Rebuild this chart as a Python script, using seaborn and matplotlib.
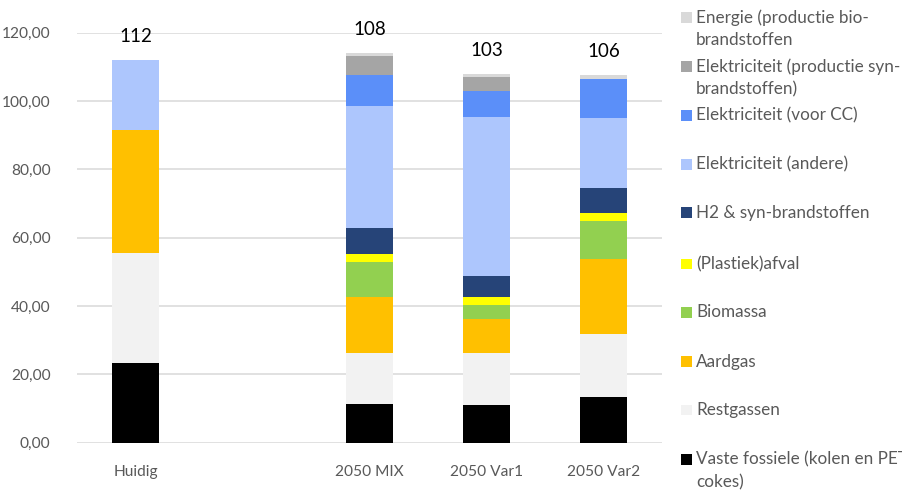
import numpy as np
import pandas as pd
import matplotlib
matplotlib.use("Agg")
import matplotlib.pyplot as plt
import seaborn as sns
from matplotlib.patches import Rectangle

# ---------------- data ----------------
categories = ["Huidig", "2050 MIX", "2050 Var1", "2050 Var2"]
slots = ["Huidig", " ", "2050 MIX", "2050 Var1", "2050 Var2"]

# segments, bottom to top
vaste = [23.4, 11.3, 11.0, 13.3]
restgassen = [32.0, 15.1, 15.4, 18.5]
aardgas = [36.1, 16.2, 9.8, 22.0]
biomassa = [0.0, 10.3, 4.1, 11.1]
plastiek = [0.0, 2.2, 2.3, 2.2]
h2_syn = [0.0, 7.8, 6.2, 7.5]
elek_andere = [20.5, 35.7, 46.5, 20.5]
elek_cc = [0.0, 9.0, 7.7, 11.3]
elek_syn = [0.0, 5.6, 4.1, 0.0]
energie_bio = [0.0, 0.8, 0.7, 1.2]

top_labels = ["112", "108", "103", "106"]

series_names = [
    "Vaste fossiele (kolen en PET\ncokes)",
    "Restgassen",
    "Aardgas",
    "Biomassa",
    "(Plastiek)afval",
    "H2 & syn-brandstoffen",
    "Elektriciteit (andere)",
    "Elektriciteit (voor CC)",
    "Elektriciteit (productie syn-\nbrandstoffen)",
    "Energie (productie bio-\nbrandstoffen",
]
series_values = [vaste, restgassen, aardgas, biomassa, plastiek, h2_syn,
                 elek_andere, elek_cc, elek_syn, energie_bio]
colors = ["#000000", "#F2F2F2", "#FFC000", "#92D050", "#FFFF00", "#264478",
          "#ADC6FD", "#5B8FF9", "#A5A5A5", "#D9D9D9"]

# ---------------- figure ----------------
sns.set_style("white")
plt.rcParams["font.family"] = ["Lato", "DejaVu Sans"]
W, H = 903, 492
fig = plt.figure(figsize=(W / 100, H / 100), dpi=100)
ax = fig.add_axes([77 / W, (H - 442.7) / H, 585 / W, 410 / H])

seg = np.array(series_values)          # (n_series, n_cat)
cum = np.cumsum(seg, axis=0)

# draw cumulative bars from the top layer down so that each overlays the previous
for k in range(len(series_names) - 1, -1, -1):
    mask = seg[k] > 0
    df = pd.DataFrame({"cat": np.array(categories)[mask], "val": cum[k][mask]})
    if df.empty:
        continue
    sns.barplot(data=df, x="cat", y="val", order=slots, color=colors[k],
                width=0.4, errorbar=None, linewidth=0, saturation=1, ax=ax)

# value labels above bars
totals = cum[-1]
for i, c in enumerate(categories):
    xi = slots.index(c)
    ax.annotate(top_labels[i], (xi, totals[i]), xytext=(0, 17), textcoords="offset points",
                ha="center", va="center", fontsize=13.5, color="#000000")

ax.set_xlim(-0.5, 4.5)
ax.set_ylim(0, 120)
ax.set_yticks(np.arange(0, 121, 20))
ax.set_yticklabels([f"{v:.2f}".replace(".", ",") for v in np.arange(0, 121, 20)])
ax.yaxis.grid(True, color="#D9D9D9", linewidth=1.1)
ax.set_axisbelow(True)
for s in ax.spines.values():
    s.set_visible(False)
ax.tick_params(axis="both", length=0, labelsize=11.2, colors="#595959")
ax.tick_params(axis="y", pad=19)
ax.tick_params(axis="x", pad=16)
ax.set_xlabel("")
ax.set_ylabel("")

# ---------------- legend (manual, top entry first) ----------------
entry_y = [17.3, 66.7, 115.7, 164.3, 212.7, 264.0, 312.3, 361.7, 410.0, 459.3]
line_gap = 22.6
for j, k in enumerate(range(len(series_names) - 1, -1, -1)):
    y0 = entry_y[j]
    fig.patches.append(Rectangle((681 / W, 1 - (y0 + 5.2) / H), 10.5 / W, 10.5 / H,
                                 transform=fig.transFigure, facecolor=colors[k],
                                 edgecolor="none"))
    for li, line in enumerate(series_names[k].split("\n")):
        fig.text(696 / W, 1 - (y0 + li * line_gap) / H, line, ha="left", va="center",
                 fontsize=12.3, color="#595959")

fig.savefig("out.png", dpi=100)
